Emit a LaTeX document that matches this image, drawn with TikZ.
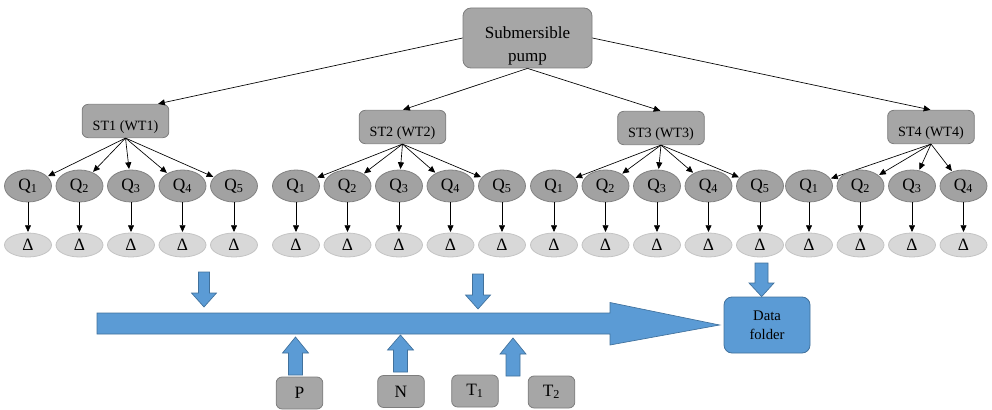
\documentclass[tikz,border=0pt]{standalone}
\usepackage{fontspec}
\setmainfont{Liberation Serif}
\usetikzlibrary{arrows.meta,shapes.geometric}

\definecolor{boxgray}{RGB}{166,166,166}
\definecolor{boxline}{RGB}{125,125,125}
\definecolor{qgray}{RGB}{162,162,162}
\definecolor{qline}{RGB}{130,130,130}
\definecolor{dgray}{RGB}{216,216,216}
\definecolor{dline}{RGB}{196,196,196}
\definecolor{folderblue}{RGB}{91,155,213}
\definecolor{folderline}{RGB}{65,113,156}

\begin{document}
\begin{tikzpicture}[x=0.75pt, y=-0.75pt,
    graybox/.style={draw=boxline, fill=boxgray, line width=0.6pt, rounded corners=4.5pt},
    stbox/.style={graybox, minimum width=65pt, minimum height=25pt},
    inbox/.style={graybox, minimum width=35pt, minimum height=24pt, font=\fontsize{13}{15}\selectfont},
    qnode/.style={ellipse, draw=qline, fill=qgray, line width=0.6pt, inner sep=0pt, minimum width=35.25pt, minimum height=24pt, font=\fontsize{13}{15}\selectfont},
    dnode/.style={ellipse, draw=dline, fill=dgray, line width=0.6pt, inner sep=0pt, minimum width=35.25pt, minimum height=18pt, font=\fontsize{13}{15}\selectfont},
    link/.style={-{Triangle[length=5pt,width=4.5pt]}, line width=0.5pt, shorten >=0.5pt},
    bluearrow/.style={fill=folderblue, draw=folderline, line width=0.5pt}]
    \useasboundingbox (0,0) rectangle (992,410);

    % pump and stations
    \node[graybox, minimum width=96.75pt, minimum height=45pt, rounded corners=6pt] (pump) at (527.5,38) {};
    \node[font=\fontsize{12.8}{17}\selectfont, align=center] (pumptext) at (527.5,46) {Submersible\\pump};
    \foreach \i/\x/\y in {1/125.5/121, 2/402.5/127, 3/661/128, 4/931/127} {
        \node[stbox] (st\i) at (\x,\y) {};
        \node[font=\fontsize{10.6}{12}\selectfont] (st\i text) at (\x,\y+6) {ST\i{} (WT\i)};
    }
    \draw[link] (pump.west)  -- ([xshift=24pt]st1.north);
    \draw[link] (pump.south) -- (st2.north);
    \draw[link] (pump.south) -- (st3.north);
    \draw[link] (pump.east)  -- (st4.north);

    % flows Q and deltas
    \foreach \s/\xs/\m in {1/28/5, 2/296/5, 3/554/5, 4/809/4} {
        \foreach \k in {1,...,\m} {
            \node[qnode] (q\s\k) at ({\xs+51.5*(\k-1)},186) {Q\textsubscript{\k}};
            \node[dnode] (d\s\k) at ({\xs+51.5*(\k-1)},245) {Δ};
            \draw[link] (st\s.south) -- (q\s\k);
            \draw[link] (q\s\k) -- (d\s\k);
        }
    }

    % data folder and inputs
    \node[draw=folderline, fill=folderblue, line width=0.6pt, rounded corners=6pt, minimum width=64.5pt, minimum height=42pt, align=center, font=\fontsize{11}{14}\selectfont] (folder) at (767,325) {Data\\folder};
    \node[inbox] (p)  at (299.5,393) {P};
    \node[inbox] (n)  at (401,391.5) {N};
    \node[inbox] (t1) at (475,391)   {T\textsubscript{1}};
    \node[inbox] (t2) at (551.5,392) {T\textsubscript{2}};

    % block arrows
    \filldraw[bluearrow] (97,313) -- (610,313) -- (610,302.5) -- ([xshift=-3pt]folder.west) -- (610,345) -- (610,334) -- (97,334) -- cycle;
    \filldraw[bluearrow] (198.5,272) -- ++(11,0) -- ++(0,21) -- ++(7,0) -- (204,307) -- ++(-12.5,-14) -- ++(7,0) -- cycle;
    \filldraw[bluearrow] (472.5,274) -- ++(11,0) -- ++(0,21) -- ++(7,0) -- (478,309) -- ++(-12.5,-14) -- ++(7,0) -- cycle;
    \filldraw[bluearrow] (755,263)   -- ++(13,0) -- ++(0,20) -- ++(6,0) -- ([xshift=-4pt]folder.north) -- (749,283) -- ++(6,0) -- cycle;
    \filldraw[bluearrow] (288.5,375) -- ++(0,-22) -- ++(-6,0) -- (295.5,337) -- (308.5,353) -- ++(-6,0) -- ++(0,22) -- cycle;
    \filldraw[bluearrow] (393.5,372) -- ++(0,-22) -- ++(-6,0) -- (400.5,335) -- (413.5,350) -- ++(-6,0) -- ++(0,22) -- cycle;
    \filldraw[bluearrow] (506,376)   -- ++(0,-22) -- ++(-6,0) -- (513,338)   -- (526,354)   -- ++(-6,0) -- ++(0,22) -- cycle;
\end{tikzpicture}
\end{document}
